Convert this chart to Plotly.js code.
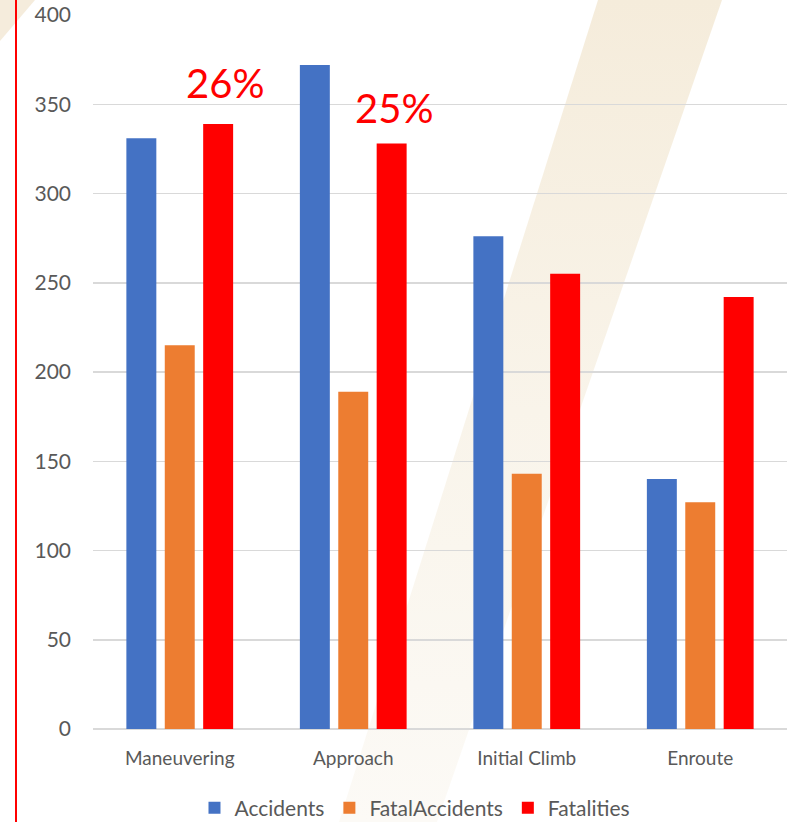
<!DOCTYPE html>
<html>
<head>
<meta charset="utf-8">
<script src="https://cdn.plot.ly/plotly-3.0.1.min.js"></script>
<style>
html,body{margin:0;padding:0;background:#fff;}
#wrap{position:relative;width:795px;height:822px;overflow:hidden;}
#bg{position:absolute;left:0;top:0;}
#chart{position:absolute;left:0;top:0;width:795px;height:822px;}
</style>
</head>
<body>
<div id="wrap">
<svg id="bg" width="795" height="822" xmlns="http://www.w3.org/2000/svg">
  <defs>
    <linearGradient id="g" x1="0" y1="0" x2="0" y2="1">
      <stop offset="0" stop-color="#f5ecdb"/>
      <stop offset="0.5" stop-color="#f9f4ea"/>
      <stop offset="1" stop-color="#fcfaf6"/>
    </linearGradient>
  </defs>
  <polygon points="598,0 722,0 437,822 339,822" fill="url(#g)"/>
  <polygon points="0,0 35,0 0,41" fill="#f5ecdc"/>
  <rect x="15" y="0" width="2" height="822" fill="#ff0000"/>
</svg>
<div id="chart"></div>
</div>
<script>
const categories = ["Maneuvering", "Approach", "Initial Climb", "Enroute"];
const accidents = [331, 372, 276, 140];
const fatalAccidents = [215, 189, 143, 127];
const fatalities = [339, 328, 255, 242];
const yTicks = [0, 50, 100, 150, 200, 250, 300, 350, 400];
const pctLabels = ["26%", "25%"];

const font = "Lato, 'Open Sans', sans-serif";
const grey = "#595959";

const traces = [
  {type: "bar", name: "Accidents", x: categories, y: accidents, marker: {color: "#4472C4"}},
  {type: "bar", name: "FatalAccidents", x: categories, y: fatalAccidents, marker: {color: "#ED7D31"}},
  {type: "bar", name: "Fatalities", x: categories, y: fatalities, marker: {color: "#FF0000"}}
];

const layout = {
  width: 795, height: 822,
  margin: {l: 93, r: 8, t: 15, b: 93, autoexpand: false},
  paper_bgcolor: "rgba(0,0,0,0)",
  plot_bgcolor: "rgba(0,0,0,0)",
  barmode: "group",
  bargap: 0.336,
  bargroupgap: 0.22,
  font: {family: font, color: grey},
  showlegend: true,
  legend: {
    orientation: "h", xref: "container", x: 0.522, xanchor: "center",
    yref: "container", y: 0.017, yanchor: "middle",
    font: {size: 21, color: grey, family: font}, bgcolor: "rgba(0,0,0,0)",
    itemwidth: 30
  },
  xaxis: {
    type: "category", showgrid: false, zeroline: false, showline: false, ticks: "",
    automargin: false,
    tickfont: {size: 19, color: grey, family: font}, ticklabelstandoff: 16
  },
  yaxis: {
    range: [0, 400], tickvals: yTicks, showgrid: true, gridcolor: "#d9d9d9", gridwidth: 1.5,
    zeroline: true, zerolinecolor: "#d9d9d9", zerolinewidth: 1.5, showline: false, ticks: "",
    automargin: false,
    tickfont: {size: 21, color: grey, family: font}, ticklabelstandoff: 21
  },
  annotations: [
    {text: pctLabels[0], xref: "paper", yref: "y", x: 0.19, y: 362, xanchor: "center", yanchor: "middle",
     showarrow: false, font: {size: 40, color: "#FF0000", family: font}},
    {text: pctLabels[1], xref: "paper", yref: "y", x: 0.434, y: 348, xanchor: "center", yanchor: "middle",
     showarrow: false, font: {size: 40, color: "#FF0000", family: font}}
  ]
};

Plotly.newPlot("chart", traces, layout, {displayModeBar: false, staticPlot: true});
</script>
</body>
</html>
